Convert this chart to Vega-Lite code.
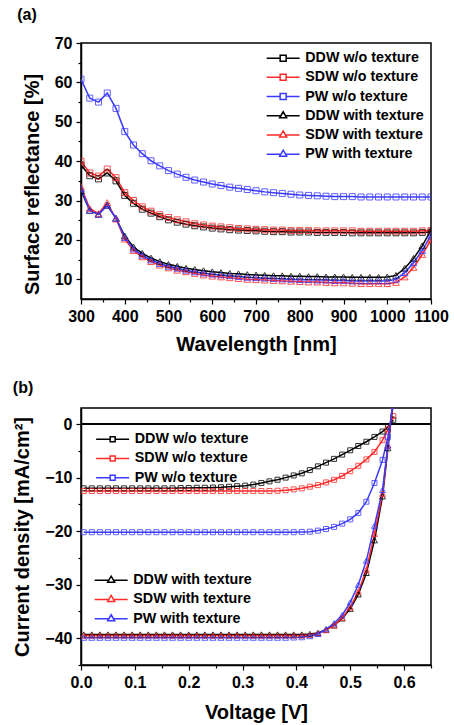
{
"$schema":"https://vega.github.io/schema/vega-lite/v6.json",
"padding":{"left":12,"top":6,"right":0,"bottom":0},
"config":{
 "font":"Liberation Sans",
 "view":{"stroke":"black","strokeWidth":1.5},
 "axis":{"grid":false,"domainColor":"black","domainWidth":1.5,"tickColor":"black","tickWidth":1.2,"tickSize":5,"labelFont":"Liberation Sans","labelFontSize":16,"labelFontWeight":"bold","labelColor":"black","labelPadding":4,"labelFlush":false,"labelOverlap":false,"titleFont":"Liberation Sans","titleFontSize":20,"titleFontWeight":"bold","titleColor":"black"},
 "axisX":{"titlePadding":10},
 "axisY":{"titlePadding":12},
 "concat":{"spacing":24}
},
"datasets":{
 "refl":[
  {"w":300,"a":39.0,"b":40.0,"c":60.8,"d":32.5,"e":33.5,"f":33.0},
  {"w":320,"a":36.3,"b":37.0,"c":56.0,"d":27.5,"e":28.0,"f":27.5},
  {"w":340,"a":35.5,"b":36.2,"c":55.0,"d":26.5,"e":26.7,"f":26.5},
  {"w":360,"a":37.0,"b":38.0,"c":57.3,"d":28.8,"e":29.5,"f":28.8},
  {"w":380,"a":35.0,"b":35.8,"c":53.4,"d":25.5,"e":25.3,"f":25.5},
  {"w":400,"a":31.3,"b":32.0,"c":47.5,"d":21.0,"e":20.2,"f":20.6},
  {"w":420,"a":29.3,"b":30.0,"c":44.1,"d":18.2,"e":17.3,"f":17.7},
  {"w":440,"a":27.8,"b":28.4,"c":41.9,"d":16.6,"e":15.7,"f":16.1},
  {"w":460,"a":26.8,"b":27.3,"c":40.1,"d":15.4,"e":14.5,"f":14.9},
  {"w":480,"a":25.9,"b":26.4,"c":38.8,"d":14.5,"e":13.6,"f":14.0},
  {"w":500,"a":25.1,"b":25.7,"c":37.6,"d":13.8,"e":12.9,"f":13.3},
  {"w":520,"a":24.5,"b":25.1,"c":36.7,"d":13.3,"e":12.3,"f":12.8},
  {"w":540,"a":24.0,"b":24.6,"c":35.9,"d":12.8,"e":11.9,"f":12.3},
  {"w":560,"a":23.6,"b":24.1,"c":35.2,"d":12.5,"e":11.5,"f":11.9},
  {"w":580,"a":23.3,"b":23.8,"c":34.7,"d":12.2,"e":11.1,"f":11.6},
  {"w":600,"a":23.0,"b":23.5,"c":34.2,"d":11.9,"e":10.8,"f":11.3},
  {"w":620,"a":22.8,"b":23.3,"c":33.8,"d":11.7,"e":10.6,"f":11.1},
  {"w":640,"a":22.6,"b":23.1,"c":33.4,"d":11.5,"e":10.4,"f":10.9},
  {"w":660,"a":22.5,"b":22.9,"c":33.1,"d":11.4,"e":10.2,"f":10.7},
  {"w":680,"a":22.4,"b":22.8,"c":32.8,"d":11.2,"e":10.0,"f":10.5},
  {"w":700,"a":22.3,"b":22.7,"c":32.5,"d":11.1,"e":9.9,"f":10.4},
  {"w":720,"a":22.2,"b":22.6,"c":32.2,"d":11.0,"e":9.8,"f":10.3},
  {"w":740,"a":22.1,"b":22.5,"c":32.0,"d":10.9,"e":9.7,"f":10.2},
  {"w":760,"a":22.1,"b":22.5,"c":31.8,"d":10.9,"e":9.6,"f":10.1},
  {"w":780,"a":22.0,"b":22.4,"c":31.6,"d":10.8,"e":9.5,"f":10.0},
  {"w":800,"a":22.0,"b":22.4,"c":31.4,"d":10.8,"e":9.4,"f":9.9},
  {"w":820,"a":22.0,"b":22.4,"c":31.3,"d":10.7,"e":9.3,"f":9.9},
  {"w":840,"a":21.9,"b":22.3,"c":31.2,"d":10.7,"e":9.3,"f":9.8},
  {"w":860,"a":21.9,"b":22.3,"c":31.1,"d":10.6,"e":9.2,"f":9.8},
  {"w":880,"a":21.9,"b":22.3,"c":31.0,"d":10.6,"e":9.1,"f":9.7},
  {"w":900,"a":21.9,"b":22.3,"c":31.0,"d":10.6,"e":9.1,"f":9.7},
  {"w":920,"a":21.8,"b":22.3,"c":31.0,"d":10.5,"e":9.0,"f":9.6},
  {"w":940,"a":21.8,"b":22.2,"c":30.9,"d":10.5,"e":8.9,"f":9.6},
  {"w":960,"a":21.8,"b":22.2,"c":30.9,"d":10.5,"e":8.9,"f":9.6},
  {"w":980,"a":21.8,"b":22.2,"c":30.9,"d":10.5,"e":8.9,"f":9.6},
  {"w":1000,"a":21.8,"b":22.2,"c":30.9,"d":10.6,"e":8.9,"f":9.6},
  {"w":1020,"a":21.8,"b":22.2,"c":30.9,"d":11.0,"e":9.2,"f":10.0},
  {"w":1040,"a":21.8,"b":22.2,"c":30.9,"d":12.8,"e":10.6,"f":11.7},
  {"w":1060,"a":21.8,"b":22.2,"c":30.9,"d":15.3,"e":13.0,"f":14.2},
  {"w":1080,"a":21.9,"b":22.3,"c":30.9,"d":18.5,"e":16.3,"f":17.3},
  {"w":1100,"a":22.0,"b":22.4,"c":30.9,"d":22.5,"e":20.0,"f":21.2}
 ],
 "jv":[
  {"u":0.005,"a":-12.0,"b":-12.5,"c":-20.2,"d":-39.3,"e":-39.5,"f":-39.9},
  {"u":0.02,"a":-12.0,"b":-12.5,"c":-20.2,"d":-39.3,"e":-39.5,"f":-39.9},
  {"u":0.035,"a":-12.0,"b":-12.5,"c":-20.2,"d":-39.3,"e":-39.5,"f":-39.9},
  {"u":0.05,"a":-12.0,"b":-12.5,"c":-20.2,"d":-39.3,"e":-39.5,"f":-39.9},
  {"u":0.065,"a":-12.0,"b":-12.5,"c":-20.2,"d":-39.3,"e":-39.5,"f":-39.9},
  {"u":0.08,"a":-12.0,"b":-12.5,"c":-20.2,"d":-39.3,"e":-39.5,"f":-39.9},
  {"u":0.095,"a":-12.0,"b":-12.5,"c":-20.2,"d":-39.3,"e":-39.5,"f":-39.9},
  {"u":0.11,"a":-12.0,"b":-12.5,"c":-20.2,"d":-39.3,"e":-39.5,"f":-39.9},
  {"u":0.125,"a":-12.0,"b":-12.5,"c":-20.2,"d":-39.3,"e":-39.5,"f":-39.9},
  {"u":0.14,"a":-12.0,"b":-12.5,"c":-20.2,"d":-39.3,"e":-39.5,"f":-39.9},
  {"u":0.155,"a":-12.0,"b":-12.5,"c":-20.2,"d":-39.3,"e":-39.5,"f":-39.9},
  {"u":0.17,"a":-12.0,"b":-12.5,"c":-20.2,"d":-39.3,"e":-39.5,"f":-39.9},
  {"u":0.185,"a":-11.95,"b":-12.5,"c":-20.2,"d":-39.3,"e":-39.5,"f":-39.9},
  {"u":0.2,"a":-11.95,"b":-12.5,"c":-20.2,"d":-39.3,"e":-39.5,"f":-39.9},
  {"u":0.215,"a":-11.9,"b":-12.5,"c":-20.2,"d":-39.3,"e":-39.5,"f":-39.9},
  {"u":0.23,"a":-11.9,"b":-12.5,"c":-20.2,"d":-39.3,"e":-39.5,"f":-39.9},
  {"u":0.245,"a":-11.85,"b":-12.5,"c":-20.2,"d":-39.3,"e":-39.5,"f":-39.9},
  {"u":0.26,"a":-11.8,"b":-12.5,"c":-20.2,"d":-39.3,"e":-39.5,"f":-39.9},
  {"u":0.275,"a":-11.7,"b":-12.5,"c":-20.2,"d":-39.3,"e":-39.5,"f":-39.9},
  {"u":0.29,"a":-11.6,"b":-12.5,"c":-20.2,"d":-39.3,"e":-39.5,"f":-39.9},
  {"u":0.305,"a":-11.5,"b":-12.5,"c":-20.2,"d":-39.3,"e":-39.5,"f":-39.9},
  {"u":0.32,"a":-11.3,"b":-12.5,"c":-20.2,"d":-39.3,"e":-39.5,"f":-39.9},
  {"u":0.335,"a":-11.0,"b":-12.5,"c":-20.2,"d":-39.3,"e":-39.5,"f":-39.9},
  {"u":0.35,"a":-10.7,"b":-12.5,"c":-20.2,"d":-39.3,"e":-39.5,"f":-39.9},
  {"u":0.365,"a":-10.4,"b":-12.45,"c":-20.2,"d":-39.3,"e":-39.5,"f":-39.9},
  {"u":0.38,"a":-10.0,"b":-12.35,"c":-20.2,"d":-39.3,"e":-39.5,"f":-39.9},
  {"u":0.395,"a":-9.6,"b":-12.2,"c":-20.2,"d":-39.3,"e":-39.5,"f":-39.85},
  {"u":0.41,"a":-9.2,"b":-12.0,"c":-20.15,"d":-39.3,"e":-39.5,"f":-39.8},
  {"u":0.425,"a":-8.6,"b":-11.7,"c":-20.1,"d":-39.2,"e":-39.4,"f":-39.6},
  {"u":0.44,"a":-7.9,"b":-11.4,"c":-19.9,"d":-39.0,"e":-39.1,"f":-39.2},
  {"u":0.455,"a":-7.2,"b":-10.9,"c":-19.6,"d":-38.4,"e":-38.5,"f":-38.3},
  {"u":0.47,"a":-6.5,"b":-10.4,"c":-19.2,"d":-37.6,"e":-37.6,"f":-37.2},
  {"u":0.485,"a":-5.7,"b":-9.7,"c":-18.6,"d":-36.3,"e":-36.2,"f":-35.7},
  {"u":0.5,"a":-4.9,"b":-8.8,"c":-17.8,"d":-34.5,"e":-34.2,"f":-33.3},
  {"u":0.515,"a":-4.1,"b":-7.8,"c":-16.6,"d":-31.8,"e":-31.3,"f":-30.0},
  {"u":0.53,"a":-3.3,"b":-6.6,"c":-14.5,"d":-27.8,"e":-27.2,"f":-25.5},
  {"u":0.545,"a":-2.4,"b":-5.2,"c":-11.0,"d":-21.7,"e":-20.5,"f":-19.0},
  {"u":0.56,"a":-1.4,"b":-3.0,"c":-6.7,"d":-13.5,"e":-13.0,"f":-12.3},
  {"u":0.57,"a":-0.5,"b":-1.0,"c":-2.4,"d":-4.5,"e":-4.0,"f":-4.0},
  {"u":0.58,"a":0.8,"b":1.5,"c":3.5,"d":4.5,"e":4.8,"f":5.0}
 ]
},
"vconcat":[
 {
  "width":350,"height":256,
  "title":{"text":"(a)","anchor":"start","frame":"bounds","fontSize":16,"fontWeight":"bold","font":"Liberation Sans","color":"black","offset":12,"dx":-5},
  "data":{"name":"refl"},
  "transform":[{"fold":["a","b","c","d","e","f"],"as":["k","val"]}],
  "layer":[
   {"mark":{"type":"line","strokeWidth":1.5,"clip":true},
    "encoding":{
     "x":{"field":"w","type":"quantitative","title":"Wavelength [nm]","scale":{"domain":[300,1100],"nice":false},"axis":{"orient":"bottom","values":[300,400,500,600,700,800,900,1000,1100],"format":"d"}},
     "y":{"field":"val","type":"quantitative","title":"Surface reflectance [%]","scale":{"domain":[5,70],"nice":false},"axis":{"orient":"left","values":[10,20,30,40,50,60,70],"titleY":141}},
     "color":{"field":"k","type":"nominal","scale":{"domain":["a","b","c","d","e","f"],"range":["#000000","#ff2a2a","#3b3bff","#000000","#ff2a2a","#3b3bff"]},
      "legend":{"title":null,"orient":"none","legendX":195,"legendY":8,"padding":0,"rowPadding":4.2,"symbolSize":100,"symbolStrokeWidth":1.5,"labelOffset":15,"labelFont":"Liberation Sans","labelFontSize":14.3,"labelFontWeight":"bold","labelColor":"black","labelLimit":300,
       "labelExpr":"datum.value=='a'?'DDW w/o texture':datum.value=='b'?'SDW w/o texture':datum.value=='c'?'PW w/o texture':datum.value=='d'?'DDW with texture':datum.value=='e'?'SDW with texture':'PW with texture'",
       "encode":{"symbols":{"update":{"shape":{"signal":"indexof(['a','b','c'], datum.value) >= 0 ? 'M-3.3,0H-0.6M0.6,0H3.3M-0.6,-0.6H0.6V0.6H-0.6Z' : 'M-3.3,0H-0.5M0.5,0H3.3M0,-0.8L0.7,0.4H-0.7Z'"},"fill":{"value":"transparent"},"opacity":{"value":1}}}}}}
    }},
   {"layer":[
     {"transform":[{"filter":{"field":"k","oneOf":["a","b","c"]}}],"mark":{"type":"point","shape":"square","filled":false,"size":36,"strokeWidth":1,"opacity":0.8,"clip":true}},
     {"transform":[{"filter":{"field":"k","oneOf":["d","e","f"]}}],"mark":{"type":"point","shape":"triangle-up","filled":false,"size":45,"strokeWidth":1,"opacity":0.8,"clip":true}}
    ],
    "encoding":{
     "x":{"field":"w","type":"quantitative","scale":{"domain":[300,1100],"nice":false},"axis":{"orient":"bottom","values":[350,450,550,650,750,850,950,1050],"labels":false,"domain":false,"title":null,"tickSize":3}},
     "y":{"field":"val","type":"quantitative","scale":{"domain":[5,70],"nice":false},"axis":{"orient":"left","values":[15,25,35,45,55,65],"labels":false,"domain":false,"title":null,"tickSize":3}},
     "color":{"field":"k","type":"nominal"}
    }}
  ],
  "resolve":{"axis":{"x":"independent","y":"independent"}}
 },
 {
  "width":350,"height":257,
  "title":{"text":"(b)","anchor":"start","frame":"bounds","fontSize":16,"fontWeight":"bold","font":"Liberation Sans","color":"black","offset":12},
  "data":{"name":"jv"},
  "transform":[{"fold":["a","b","c","d","e","f"],"as":["k","val"]}],
  "layer":[
   {"mark":{"type":"rule","color":"black","strokeWidth":1.5},"encoding":{"y":{"datum":0,"type":"quantitative","axis":null}}},
   {"transform":[{"filter":{"field":"k","oneOf":["a","b","c"]}}],
    "layer":[
     {"mark":{"type":"line","strokeWidth":1.5,"clip":true},
      "encoding":{
       "x":{"field":"u","type":"quantitative","title":"Voltage [V]","scale":{"domain":[0,0.65],"nice":false},"axis":{"orient":"bottom","values":[0,0.1,0.2,0.3,0.4,0.5,0.6],"format":".1f","titlePadding":12}},
       "y":{"field":"val","type":"quantitative","title":"Current density [mA/cm²]","scale":{"domain":[-45,3],"nice":false},"axis":{"orient":"left","values":[0,-10,-20,-30,-40]}},
       "color":{"field":"k","type":"nominal","scale":{"domain":["a","b","c"],"range":["#000000","#ff2a2a","#3b3bff"]},
        "legend":{"title":null,"orient":"none","legendX":24.5,"legendY":24,"padding":0,"rowPadding":4.3,"symbolSize":100,"symbolStrokeWidth":1.5,"labelOffset":15,"labelFont":"Liberation Sans","labelFontSize":14.3,"labelFontWeight":"bold","labelColor":"black","labelLimit":300,
         "labelExpr":"datum.value=='a'?'DDW w/o texture':datum.value=='b'?'SDW w/o texture':'PW w/o texture'",
         "encode":{"symbols":{"update":{"shape":{"value":"M-3.3,0H-0.5M0.5,0H3.3M-0.5,-0.5H0.5V0.5H-0.5Z"},"fill":{"value":"transparent"},"opacity":{"value":1}}}}}}
      }},
     {"mark":{"type":"point","shape":"square","filled":false,"size":25,"strokeWidth":1,"opacity":0.8,"clip":true},
      "encoding":{
       "x":{"field":"u","type":"quantitative"},
       "y":{"field":"val","type":"quantitative"},
       "color":{"field":"k","type":"nominal"}
      }}
    ]},
   {"transform":[{"filter":{"field":"k","oneOf":["d","e","f"]}}],
    "layer":[
     {"mark":{"type":"line","strokeWidth":1.5,"clip":true},
      "encoding":{
       "x":{"field":"u","type":"quantitative","axis":{"orient":"bottom","values":[0.05,0.15,0.25,0.35,0.45,0.55,0.65],"labels":false,"domain":false,"title":null,"tickSize":3}},
       "y":{"field":"val","type":"quantitative","axis":{"orient":"left","values":[-5,-15,-25,-35,-45],"labels":false,"domain":false,"title":null,"tickSize":3}},
       "color":{"field":"k","type":"nominal","scale":{"domain":["d","e","f"],"range":["#000000","#ff2a2a","#3b3bff"]},
        "legend":{"title":null,"orient":"none","legendX":23,"legendY":165,"padding":0,"rowPadding":4.3,"symbolSize":100,"symbolStrokeWidth":1.5,"labelOffset":15,"labelFont":"Liberation Sans","labelFontSize":14.3,"labelFontWeight":"bold","labelColor":"black","labelLimit":300,
         "labelExpr":"datum.value=='d'?'DDW with texture':datum.value=='e'?'SDW with texture':'PW with texture'",
         "encode":{"symbols":{"update":{"shape":{"value":"M-3.3,0H-0.5M0.5,0H3.3M0,-0.8L0.7,0.4H-0.7Z"},"fill":{"value":"transparent"},"opacity":{"value":1}}}}}}
      }},
     {"mark":{"type":"point","shape":"triangle-up","filled":false,"size":36,"strokeWidth":1,"opacity":0.8,"clip":true},
      "encoding":{
       "x":{"field":"u","type":"quantitative"},
       "y":{"field":"val","type":"quantitative"},
       "color":{"field":"k","type":"nominal"}
      }}
    ]}
  ],
  "resolve":{"scale":{"color":"independent"},"axis":{"x":"independent","y":"independent"}}
 }
]
}
